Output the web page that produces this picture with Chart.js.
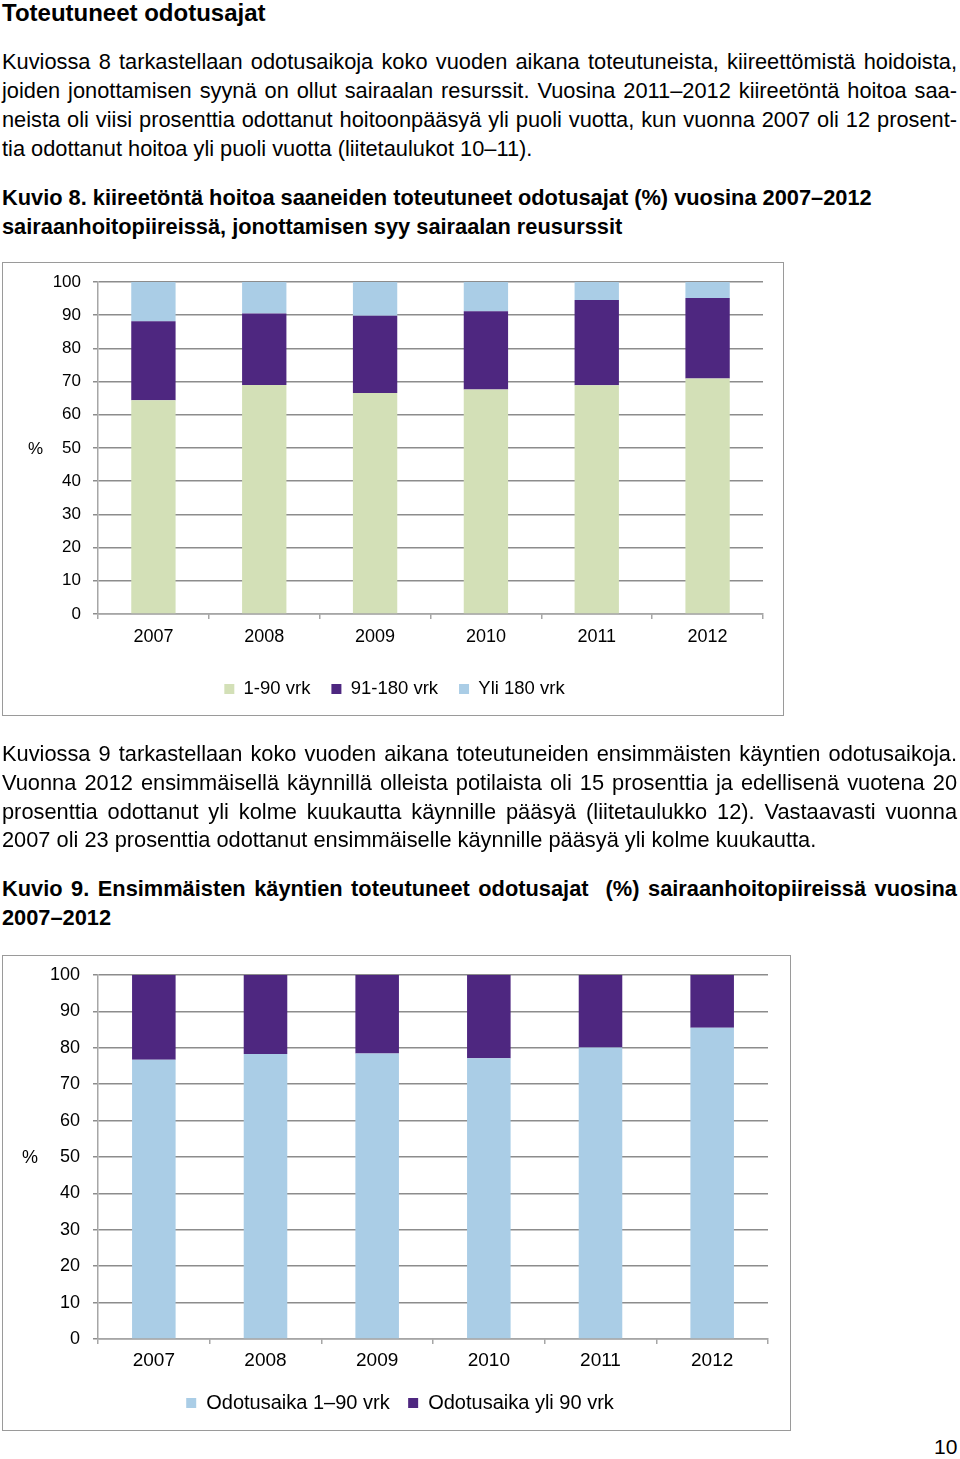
<!DOCTYPE html>
<html>
<head>
<meta charset="utf-8">
<script src="https://cdn.jsdelivr.net/npm/chart.js@4"></script>
<style>
  body { margin: 0; background: #fff; font-family: "Liberation Sans", Arial, Helvetica, sans-serif; color: #000; }
  .page { position: relative; width: 960px; height: 1459px; overflow: hidden; }
  .abs { position: absolute; }
  .line { position: absolute; left: 2px; width: 955px; font-size: 21.8px; line-height: 24px; white-space: nowrap; }
  .j { text-align: justify; text-align-last: justify; }
  .b { font-weight: bold; }
  .box { position: absolute; border: 1.5px solid #9a9a9a; box-sizing: border-box; }
  .pct { position: absolute; font-size: 17px; }
</style>
</head>
<body>
<div class="page">
  <div class="line b" style="top:1px; font-size:24px;">Toteutuneet odotusajat</div>

  <div class="line j" style="top:50px;">Kuviossa 8 tarkastellaan odotusaikoja koko vuoden aikana toteutuneista, kiireettömistä hoidoista,</div>
  <div class="line j" style="top:79px;">joiden jonottamisen syynä on ollut sairaalan resurssit. Vuosina 2011–2012 kiireetöntä hoitoa saa-</div>
  <div class="line j" style="top:108px;">neista oli viisi prosenttia odottanut hoitoonpääsyä yli puoli vuotta, kun vuonna 2007 oli 12 prosent-</div>
  <div class="line" style="top:137px;">tia odottanut hoitoa yli puoli vuotta (liitetaulukot 10–11).</div>

  <div class="line b" style="top:186px;">Kuvio 8. kiireetöntä hoitoa saaneiden toteutuneet odotusajat (%) vuosina 2007–2012</div>
  <div class="line b" style="top:215px;">sairaanhoitopiireissä, jonottamisen syy sairaalan reusurssit</div>

  <div class="box" style="left:2px; top:262px; width:782px; height:454px;"></div>
  <div class="abs" style="left:3px; top:262px; width:780px; height:500px;"><canvas id="kuvio8"></canvas></div>
  <div class="pct" style="left:28px; top:439px;">%</div>

  <div class="line j" style="top:742px;">Kuviossa 9 tarkastellaan koko vuoden aikana toteutuneiden ensimmäisten käyntien odotusaikoja.</div>
  <div class="line j" style="top:771px;">Vuonna 2012 ensimmäisellä käynnillä olleista potilaista oli 15 prosenttia ja edellisenä vuotena 20</div>
  <div class="line j" style="top:800px;">prosenttia odottanut yli kolme kuukautta käynnille pääsyä (liitetaulukko 12). Vastaavasti vuonna</div>
  <div class="line" style="top:828px;">2007 oli 23 prosenttia odottanut ensimmäiselle käynnille pääsyä yli kolme kuukautta.</div>

  <div class="line b j" style="top:877px;">Kuvio 9. Ensimmäisten käyntien toteutuneet odotusajat&nbsp; (%) sairaanhoitopiireissä vuosina</div>
  <div class="line b" style="top:906px;">2007–2012</div>

  <div class="box" style="left:2px; top:955px; width:789px; height:476px;"></div>
  <div class="abs" style="left:3px; top:955px; width:787px; height:540px;"><canvas id="kuvio9"></canvas></div>
  <div class="pct" style="left:22px; top:1147px; font-size:18px;">%</div>

  <div class="abs" style="left:934px; top:1435px; font-size:21px;">10</div>
</div>

<script>
var years = ["2007", "2008", "2009", "2010", "2011", "2012"];

// Kuvio 8
var k8_1_90 = [64.4, 69.0, 66.6, 67.6, 68.9, 70.9];
var k8_91_180 = [23.8, 21.5, 23.2, 23.6, 25.7, 24.3];
var k8_yli180 = [11.8, 9.5, 10.2, 8.8, 5.4, 4.8];
var k8_labels = ["1-90 vrk", "91-180 vrk", "Yli 180 vrk"];

// Kuvio 9
var k9_1_90 = [76.7, 78.3, 78.4, 77.1, 80.1, 85.5];
var k9_yli90 = [23.3, 21.7, 21.6, 22.9, 19.9, 14.5];
var k9_labels = ["Odotusaika 1–90 vrk", "Odotusaika yli 90 vrk"];

var yMin = 0, yMax = 100, yStep = 10;

var green = "#d3e0b7";
var purple = "#4e2780";
var blue = "#aacde6";
var gridGray = "#8c8c8c";
var axisGray = "#a6a6a6";
var font = "'Liberation Sans', Arial, Helvetica, sans-serif";

function makeOptions(o) {
	return {
		responsive: true,
		maintainAspectRatio: false,
		animation: false,
		layout: { padding: { left: o.padLeft, right: o.padRight, top: o.padTop, bottom: o.padBottom } },
		plugins: {
			tooltip: { enabled: false },
			legend: {
				position: "bottom",
				labels: {
					boxWidth: 10,
					boxHeight: 10,
					padding: o.legendPad,
					color: "#000",
					font: { family: font, size: o.legendSize }
				}
			}
		},
		scales: {
			x: {
				stacked: true,
				grid: { drawOnChartArea: false, drawTicks: true, tickLength: 5, color: axisGray, lineWidth: 1.5 },
				border: { color: axisGray, width: 1.5 },
				ticks: { color: "#000", padding: o.xPad, font: { family: font, size: o.xSize } },
				afterFit: function (s) { s.height = o.xHeight; s.paddingLeft = 0; s.paddingRight = 0; }
			},
			y: {
				stacked: true,
				min: yMin,
				max: yMax,
				grid: { color: gridGray, lineWidth: 1.5, tickLength: 5 },
				border: { color: axisGray, width: 1.5 },
				ticks: { stepSize: yStep, color: "#000", padding: o.yPad, font: { family: font, size: o.ySize } },
				afterFit: function (s) { s.width = 95 - o.padLeft; s.paddingTop = 0; s.paddingBottom = 0; }
			}
		}
	};
}

new Chart(document.getElementById("kuvio8"), {
	type: "bar",
	data: {
		labels: years,
		datasets: [
			{ label: k8_labels[0], data: k8_1_90, backgroundColor: green, barPercentage: 0.4, categoryPercentage: 1 },
			{ label: k8_labels[1], data: k8_91_180, backgroundColor: purple, barPercentage: 0.4, categoryPercentage: 1 },
			{ label: k8_labels[2], data: k8_yli180, backgroundColor: blue, barPercentage: 0.4, categoryPercentage: 1 }
		]
	},
	options: makeOptions({ ySize: 17, xSize: 18, yPad: 12, xPad: 7, xHeight: 44.75, legendSize: 18.5, legendPad: 21,
		padLeft: 23, padRight: 20, padTop: 20, padBottom: 53.75 })
});

new Chart(document.getElementById("kuvio9"), {
	type: "bar",
	data: {
		labels: years,
		datasets: [
			{ label: k9_labels[0], data: k9_1_90, backgroundColor: blue, barPercentage: 0.39, categoryPercentage: 1 },
			{ label: k9_labels[1], data: k9_yli90, backgroundColor: purple, barPercentage: 0.39, categoryPercentage: 1 }
		]
	},
	options: makeOptions({ ySize: 18, xSize: 19, yPad: 13, xPad: 5.6, xHeight: 35.5, legendSize: 20, legendPad: 18.5,
		padLeft: 29, padRight: 22, padTop: 20, padBottom: 72 })
});
</script>
</body>
</html>
